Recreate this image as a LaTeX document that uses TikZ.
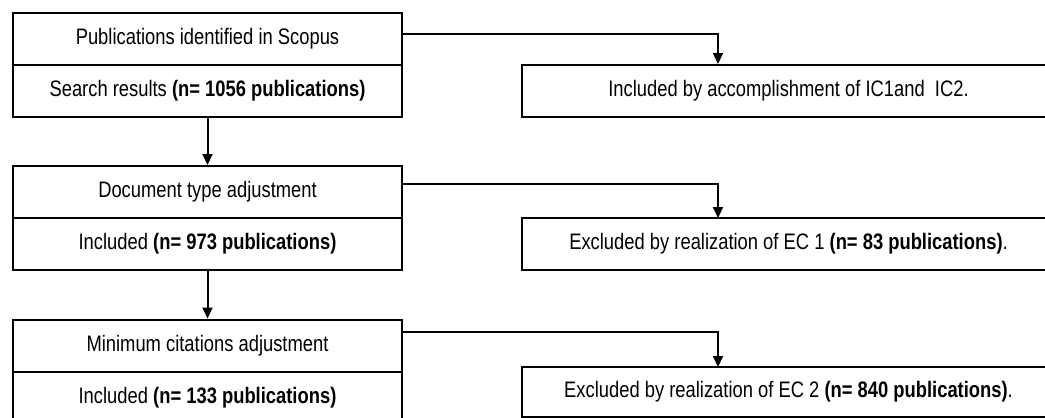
\documentclass[tikz,border=0pt]{standalone}
\usepackage{fontspec}
\setmainfont{Liberation Sans}[FakeStretch=0.82]
\usetikzlibrary{arrows.meta}

\tikzset{
    cell/.style={draw, line width=1pt, minimum width=194.5pt, minimum height=26pt,
        inner sep=0pt, font=\fontsize{11.2}{13}\selectfont},
    side/.style={cell, minimum width=266.5pt},
    arr/.style={line width=1pt, -{Triangle[length=5.5pt,width=5pt]}}
}

\begin{document}
\begin{tikzpicture}[x=0.5pt,y=-0.5pt]
    \useasboundingbox (0,0) rectangle (1045,418);
    \clip (0,0) rectangle (1045,418);

    % left column
    \node[cell] (pubs) at (207.5,38.5) {Publications identified in Scopus};
    \node[cell] (search) at (207.5,90.5) {Search results \textbf{(n= 1056 publications)}};
    \node[cell] (doctype) at (207.5,192) {Document type adjustment};
    \node[cell] (incla) at (207.5,244) {Included \textbf{(n= 973 publications)}};
    \node[cell] (mincit) at (207.5,345.5) {Minimum citations adjustment};
    \node[cell] (inclb) at (207.5,397.5) {Included \textbf{(n= 133 publications)}};

    % right column
    \node[side] (icbox) at (788.5,90.5) {Included by accomplishment of IC1and\ \ IC2.};
    \node[side] (eca) at (788.5,244) {Excluded by realization of EC 1 \textbf{(n= 83 publications)}.};
    \node[side, minimum height=25pt] (ecb) at (788.5,392) {Excluded by realization of EC 2 \textbf{(n= 840 publications)}.};

    \coordinate (ta) at (718,64);
    \coordinate (tb) at (718,218);
    \coordinate (tc) at (718,367);

    \draw[arr] (search.south) -- (doctype.north);
    \draw[arr] (incla.south) -- (mincit.north);

    \draw[arr] ([yshift=2.25pt]pubs.east) -| (ta);
    \draw[arr] ([yshift=4pt]doctype.east) -| (tb);
    \draw[arr] ([yshift=6.75pt]mincit.east) -| (tc);
\end{tikzpicture}
\end{document}
